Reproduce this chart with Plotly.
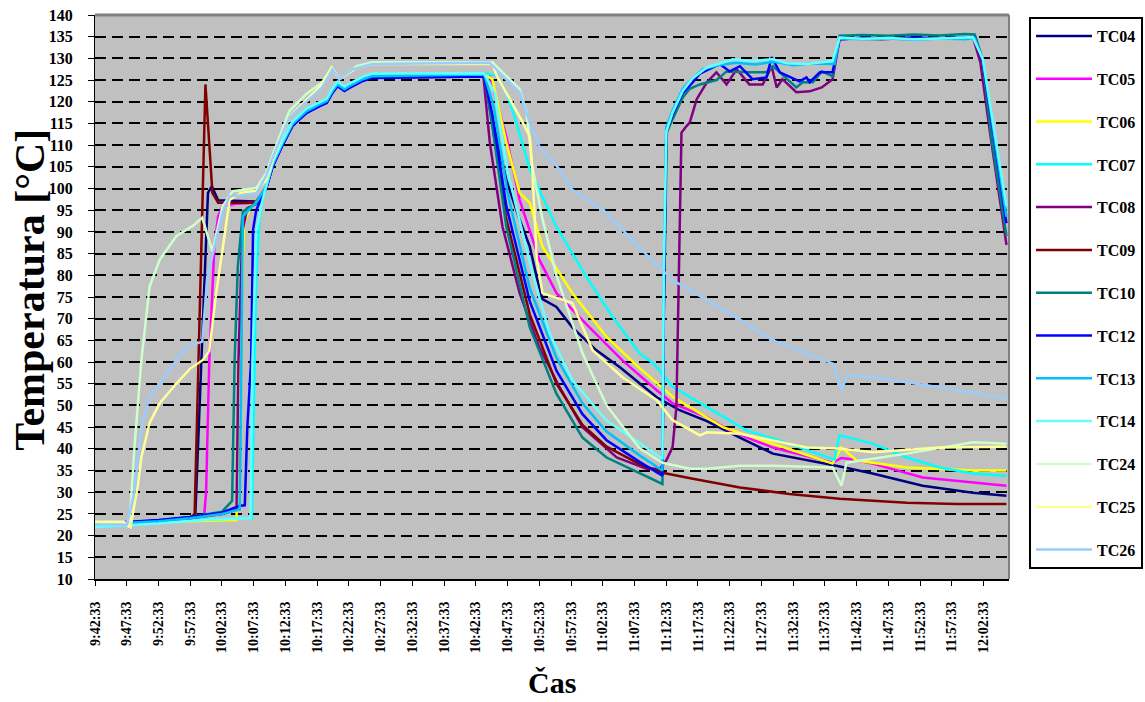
import plotly.graph_objects as go

# Time axis: minutes elapsed since 9:42:33, labelled every 5 minutes
TICK_MINUTES = list(range(0, 145, 5))
TICK_LABELS = [
    "9:42:33", "9:47:33", "9:52:33", "9:57:33", "10:02:33", "10:07:33", "10:12:33",
    "10:17:33", "10:22:33", "10:27:33", "10:32:33", "10:37:33", "10:42:33", "10:47:33",
    "10:52:33", "10:57:33", "11:02:33", "11:07:33", "11:12:33", "11:17:33", "11:22:33",
    "11:27:33", "11:32:33", "11:37:33", "11:42:33", "11:47:33", "11:52:33", "11:57:33",
    "12:02:33",
]
Y_TICKS = list(range(10, 141, 5))

# Thermocouple readings: (minutes, temperature °C)
TC04_T = [0, 5, 10, 15, 15.8, 17.8, 18.4, 19.4, 25.4, 27.0, 28.0, 29.5, 31.1, 33.3, 35.4, 36.5, 37.4, 38.2, 39.3, 40.1, 42.2, 43.7, 61.2,
          62.6, 64.8, 66.9, 68.5, 69.6, 70.5, 72.7, 75.2, 79.0, 82.7, 88.5, 92.1, 96.4, 101.6, 106.8, 116.8, 122.5, 130.4, 138.3, 143.6]
TC04_V = [22.4, 22.8, 23.3, 23.9, 24.5, 99.0, 100.5, 97.3, 97.0, 100.3, 105.2, 110.0, 114.5, 117.5, 119.2, 119.9, 122.2, 123.8, 122.6, 123.4, 125.0, 125.7, 126.0,
          116.0, 102.0, 92.8, 86.6, 79.5, 74.5, 72.7, 68.0, 62.7, 58.8, 51.9, 48.9, 46.4, 42.6, 38.9, 36.1, 34.3, 31.5, 29.9, 29.2]

TC05_T = [0, 5, 10, 15, 17.2, 17.5, 18.0, 18.8, 19.4, 20.1, 22.2, 25.4, 27.0, 28.0, 29.5, 31.1, 33.3, 35.4, 36.5, 37.4, 38.2, 39.3, 40.1, 42.2, 43.7, 61.5,
          62.2, 64.8, 66.9, 70.0, 72.7, 77.9, 83.1, 88.5, 91.0, 96.4, 100.0, 106.8, 116.2, 117.6, 118.6, 122.5, 130.4, 143.6]
TC05_V = [22.6, 23.0, 23.5, 24.1, 24.6, 30.0, 60.0, 86.6, 93.6, 95.9, 96.5, 96.7, 100.6, 105.6, 110.3, 114.9, 117.9, 119.5, 120.2, 122.5, 124.1, 123.0, 123.7, 125.3, 126.0, 126.2,
          125.9, 112.0, 97.4, 83.6, 75.9, 68.0, 60.4, 53.5, 50.5, 47.3, 44.2, 40.3, 36.8, 37.9, 37.7, 36.6, 33.4, 31.5]

TC06_T = [0, 5, 10, 15, 18.5, 22.3, 22.7, 23.5, 24.5, 25.6, 27.0, 28.0, 29.5, 31.1, 33.3, 35.4, 36.5, 37.4, 38.2, 39.3, 40.1, 42.2, 43.7, 61.5,
          62.6, 64.8, 66.9, 68.5, 70.5, 75.2, 80.6, 85.8, 91.0, 98.9, 106.8, 116.2, 117.6, 120.0, 127.9, 138.3, 143.6]
TC06_V = [22.8, 23.0, 23.2, 23.4, 23.6, 23.6, 60.0, 92.0, 96.0, 97.2, 100.6, 105.7, 110.4, 115.0, 118.0, 119.6, 120.3, 122.6, 124.2, 123.1, 123.8, 125.4, 126.1, 126.3,
          125.2, 110.6, 99.0, 96.7, 86.6, 75.9, 65.8, 58.6, 52.0, 45.0, 41.2, 36.6, 40.3, 37.3, 35.7, 35.0, 35.0]

TC07_T = [0, 5, 10, 18.5, 24.7, 25.0, 25.4, 25.9, 26.4, 27.0, 28.0, 29.5, 31.1, 33.3, 35.4, 36.5, 37.4, 38.2, 39.3, 40.1, 42.2, 43.7, 61.5,
          63.3, 64.8, 66.4, 68.5, 72.7, 77.4, 81.5, 85.8, 88.0, 91.0, 96.4, 102.7, 107.9, 116.5, 117.3, 122.5, 127.9, 133.1, 138.3, 143.6]
TC07_V = [22.0, 22.5, 23.0, 23.8, 24.0, 50.0, 80.0, 92.8, 97.4, 100.8, 106.0, 110.7, 115.3, 118.3, 119.9, 120.6, 122.9, 124.5, 123.4, 124.1, 125.7, 126.4, 126.6,
          126.0, 122.2, 115.2, 104.4, 91.2, 79.7, 70.5, 62.0, 59.7, 54.3, 49.6, 44.2, 41.9, 37.5, 43.1, 41.2, 38.0, 35.7, 34.3, 33.8]

TC08_T = [0, 5, 10, 15, 20, 22.3, 22.6, 23.2, 24.0, 25.9, 27.0, 28.0, 29.5, 31.1, 33.3, 35.4, 36.5, 37.4, 38.2, 39.3, 40.1, 42.2, 43.7, 61.2,
          62.2, 64.2, 66.9, 70.0, 73.2, 76.8, 82.2, 86.9, 89.0, 90.0, 91.0, 91.6, 92.1, 92.4, 93.2, 93.7, 94.8, 96.4, 97.9, 99.5, 101.1, 103.1,
          105.2, 106.6, 107.4, 108.3, 110.5, 112.6, 114.5, 116.2, 117.3, 120.0, 124.0, 128.0, 132.0, 136.0, 138.3, 139.5, 141.0, 143.6]
TC08_V = [22.5, 22.9, 23.4, 24.0, 25.0, 26.0, 60.0, 90.0, 95.5, 96.8, 100.2, 105.2, 109.9, 114.5, 117.5, 119.1, 119.8, 122.1, 123.7, 122.6, 123.3, 124.9, 125.6, 125.8,
          110.6, 91.2, 75.9, 63.4, 54.2, 45.0, 38.0, 35.4, 35.4, 37.3, 40.4, 49.6, 94.4, 112.9, 114.4, 115.2, 120.6, 124.5, 126.8, 124.0, 127.5, 124.0,
          124.0, 128.2, 123.3, 125.2, 122.2, 122.4, 123.3, 125.2, 134.4, 134.6, 134.4, 134.7, 134.5, 134.6, 135.0, 129.0, 113.0, 87.0]

TC09_T = [0, 5, 10, 15, 15.7, 17.4, 18.5, 19.4, 25.4, 27.0, 28.0, 29.5, 31.1, 33.3, 35.4, 36.5, 37.4, 38.2, 39.3, 40.1, 42.2, 43.7, 61.3,
          62.6, 64.8, 68.5, 72.7, 76.8, 80.6, 85.8, 89.4, 91.0, 94.2, 101.6, 109.4, 117.3, 127.9, 135.8, 143.6]
TC09_V = [22.5, 22.9, 23.4, 24.2, 25.0, 124.0, 99.0, 96.7, 96.7, 100.4, 105.4, 110.1, 114.7, 117.7, 119.3, 120.0, 122.3, 123.9, 122.8, 123.5, 125.1, 125.8, 126.5,
          115.0, 93.0, 71.0, 55.0, 45.5, 40.5, 36.5, 34.5, 34.0, 33.1, 31.1, 29.6, 28.5, 27.6, 27.3, 27.3]

TC10_T = [0, 5, 10, 15, 20, 21.6, 22.0, 22.5, 23.3, 24.3, 25.9, 27.0, 28.0, 29.5, 31.1, 33.3, 35.4, 36.5, 37.4, 38.2, 39.3, 40.1, 42.2, 43.7, 61.3,
          62.6, 64.8, 68.5, 72.7, 76.8, 80.6, 85.8, 89.4, 89.6, 90.1, 91.0, 92.6, 93.7, 95.3, 97.9, 99.5, 103.1, 105.8, 106.8, 108.5, 110.5,
          111.5, 113.1, 114.5, 116.2, 117.3, 121.0, 125.0, 129.0, 133.0, 137.0, 138.6, 139.8, 141.2, 143.6]
TC10_V = [22.6, 23.0, 23.5, 24.3, 25.5, 28.0, 60.4, 82.0, 94.7, 95.6, 97.0, 100.4, 105.4, 110.1, 114.7, 117.7, 119.3, 120.0, 122.3, 123.9, 122.8, 123.5, 125.1, 125.8, 126.0,
          114.4, 91.2, 68.0, 52.7, 42.6, 38.0, 34.3, 31.9, 70.0, 113.0, 116.0, 121.0, 123.0, 124.0, 125.0, 127.0, 126.8, 126.8, 128.2, 126.0, 123.3,
          124.5, 124.5, 127.0, 125.9, 135.2, 135.4, 135.2, 135.5, 135.3, 135.6, 135.5, 130.0, 112.0, 89.0]

TC12_T = [0, 5, 10, 15, 20, 22.8, 23.6, 24.0, 24.6, 24.9, 25.4, 25.9, 27.0, 28.0, 29.5, 31.1, 33.3, 35.4, 36.5, 37.4, 38.2, 39.3, 40.1, 42.2, 43.7, 61.3,
          62.6, 64.8, 68.5, 72.7, 76.8, 80.6, 85.8, 89.4, 89.6, 90.0, 91.0, 92.6, 94.2, 95.3, 98.4, 100.0, 101.6, 103.6, 105.8, 106.6, 107.9,
          111.0, 112.1, 112.6, 114.2, 116.2, 117.3, 121.0, 125.0, 129.0, 133.0, 137.0, 138.6, 139.9, 141.4, 143.6]
TC12_V = [22.7, 23.1, 23.6, 24.3, 25.3, 26.9, 27.0, 45.0, 60.4, 90.5, 95.0, 96.8, 100.1, 105.1, 109.8, 114.4, 117.4, 119.0, 119.7, 122.0, 123.6, 122.5, 123.2, 124.8, 125.5, 125.8,
          117.0, 96.0, 74.0, 58.0, 48.0, 42.0, 37.0, 33.8, 70.0, 113.0, 117.0, 122.0, 124.5, 126.5, 128.7, 127.0, 128.2, 125.2, 125.6, 130.3, 126.8,
          124.7, 125.6, 124.5, 126.8, 126.8, 134.4, 134.7, 134.5, 134.8, 134.6, 134.8, 134.8, 129.0, 114.0, 92.0]

TC13_T = [0, 5, 10, 15, 20, 22.8, 23.1, 23.3, 25.4, 27.0, 28.0, 29.5, 31.1, 33.3, 35.4, 36.5, 37.4, 38.2, 39.3, 40.1, 42.2, 43.7, 61.3,
          62.8, 65.0, 68.5, 72.7, 76.8, 80.6, 85.8, 89.4, 89.6, 90.0, 91.0, 92.6, 94.2, 95.8, 98.4, 101.0, 104.0, 107.0, 110.0, 113.0, 116.5,
          117.3, 121.0, 125.0, 129.0, 133.0, 137.0, 138.6, 139.9, 141.4, 143.6]
TC13_V = [22.5, 22.9, 23.3, 24.0, 25.0, 26.0, 60.0, 93.6, 96.8, 100.5, 105.5, 110.2, 114.8, 117.8, 119.4, 120.1, 122.4, 124.0, 122.9, 123.6, 125.2, 125.9, 126.3,
          119.0, 99.0, 77.0, 61.0, 50.5, 44.0, 38.5, 35.0, 80.0, 114.0, 118.0, 123.0, 125.5, 127.5, 128.5, 129.0, 128.6, 129.2, 128.4, 128.8, 128.7,
          134.6, 134.4, 134.6, 134.3, 134.6, 134.4, 134.7, 129.5, 115.0, 93.5]

TC14_T = [0, 5, 10, 18.5, 24.5, 24.8, 25.4, 26.4, 27.0, 28.0, 29.5, 31.1, 33.3, 35.4, 36.5, 37.4, 38.2, 39.3, 40.1, 42.2, 43.7, 61.3,
          63.0, 65.0, 68.9, 71.6, 75.2, 80.6, 85.8, 89.4, 89.6, 90.0, 91.0, 92.6, 94.2, 96.4, 100.5, 103.0, 106.8, 109.0, 112.1, 116.2,
          117.3, 121.0, 125.0, 129.0, 133.0, 138.3, 139.9, 141.4, 143.6]
TC14_V = [22.0, 22.4, 22.8, 23.8, 24.0, 60.0, 90.0, 97.4, 100.9, 106.1, 110.8, 115.4, 118.4, 120.0, 120.7, 123.0, 124.6, 123.5, 124.2, 125.8, 126.5, 126.6,
          122.0, 104.0, 80.6, 66.7, 55.8, 46.5, 41.2, 37.7, 80.0, 113.0, 117.5, 122.5, 125.5, 127.9, 129.8, 129.4, 129.8, 128.9, 128.7, 129.4,
          134.8, 134.5, 134.7, 134.4, 134.6, 134.9, 129.8, 116.0, 95.9]

TC24_T = [0, 4.5, 5.4, 6.2, 7.3, 8.6, 10.2, 12.8, 15.5, 16.9, 18.5, 20.1, 21.7, 25.4, 27.0, 28.0, 30.6, 33.3, 35.8, 37.3, 38.5, 41.2, 43.7, 62.6,
          66.9, 68.0, 68.9, 70.5, 72.7, 76.8, 80.6, 85.8, 89.4, 93.7, 96.4, 101.6, 106.8, 116.2, 117.6, 118.4, 127.9, 138.3, 143.6]
TC24_V = [23.0, 23.0, 22.0, 40.0, 60.4, 77.4, 83.6, 89.0, 91.5, 93.3, 85.5, 95.9, 99.4, 100.1, 103.6, 107.8, 117.8, 121.8, 124.5, 128.0, 125.2, 128.2, 129.1, 129.1,
          122.9, 117.5, 105.0, 93.0, 80.0, 62.0, 50.0, 40.1, 36.8, 35.4, 35.4, 36.1, 36.1, 35.7, 31.5, 36.8, 38.9, 41.5, 41.2]

TC25_T = [0, 4.5, 5.6, 6.8, 7.3, 8.6, 10.2, 12.8, 15.0, 17.0, 18.0, 19.1, 20.1, 21.2, 23.0, 25.4, 27.0, 28.0, 30.6, 33.3, 35.8, 37.3, 38.5, 41.2, 43.7, 62.6,
          63.3, 67.4, 68.5, 68.9, 69.6, 70.5, 73.7, 75.2, 78.4, 83.1, 88.5, 91.0, 95.3, 96.4, 101.6, 112.1, 117.3, 122.5, 133.1, 143.6]
TC25_V = [23.2, 23.2, 22.0, 32.0, 38.0, 46.0, 50.5, 55.0, 58.5, 60.5, 62.5, 76.0, 86.0, 97.4, 99.0, 99.5, 102.0, 106.5, 116.5, 120.5, 124.0, 127.7, 125.2, 127.8, 128.7, 128.7,
          126.0, 115.2, 112.0, 104.4, 83.6, 75.9, 74.3, 73.6, 62.7, 56.5, 51.2, 46.6, 43.1, 43.8, 43.5, 40.3, 40.1, 39.2, 40.3, 40.5]

TC26_T = [0, 5, 6.2, 7.3, 8.6, 10.2, 12.8, 14.4, 16.9, 17.7, 19.1, 20.1, 21.2, 25.4, 27.0, 28.0, 30.6, 33.3, 35.8, 37.4, 38.5, 40.6, 43.7, 62.2,
          64.2, 66.9, 68.5, 70.0, 73.2, 75.2, 80.6, 85.8, 91.0, 101.6, 106.8, 116.2, 117.6, 118.6, 122.5, 133.1, 143.6]
TC26_V = [22.5, 22.5, 30.0, 45.0, 52.0, 55.0, 60.4, 63.5, 64.7, 79.7, 88.2, 94.4, 98.2, 98.8, 103.0, 107.1, 116.4, 120.1, 123.3, 127.5, 125.2, 127.5, 128.7, 129.0,
          126.0, 122.2, 115.2, 109.7, 104.4, 99.7, 94.4, 86.3, 78.9, 69.8, 65.0, 59.7, 53.5, 57.0, 56.5, 54.2, 51.6]

SERIES = [
    ("TC04", TC04_T, TC04_V, "#000080"),
    ("TC05", TC05_T, TC05_V, "#FF00FF"),
    ("TC06", TC06_T, TC06_V, "#FFFF00"),
    ("TC07", TC07_T, TC07_V, "#00FFFF"),
    ("TC08", TC08_T, TC08_V, "#800080"),
    ("TC09", TC09_T, TC09_V, "#800000"),
    ("TC10", TC10_T, TC10_V, "#008080"),
    ("TC12", TC12_T, TC12_V, "#0000FF"),
    ("TC13", TC13_T, TC13_V, "#00C0F8"),
    ("TC14", TC14_T, TC14_V, "#66FFFF"),
    ("TC24", TC24_T, TC24_V, "#CCFFCC"),
    ("TC25", TC25_T, TC25_V, "#FFFF99"),
    ("TC26", TC26_T, TC26_V, "#99CCFF"),
]

SERIF = "Liberation Serif, Times New Roman, serif"

fig = go.Figure()
for name, t, v, color in SERIES:
    fig.add_trace(go.Scatter(
        x=t, y=v, name=name, mode="lines",
        line=dict(color=color, width=2.5),
        legendgroup=name,
    ))

fig.update_layout(
    width=1145, height=702,
    margin=dict(l=95, r=136, t=15, b=123, autoexpand=False),
    paper_bgcolor="white",
    plot_bgcolor="#C0C0C0",
    showlegend=True,
    legend=dict(
        xref="container", yref="container",
        x=1029 / 1145, y=1 - 17 / 702, xanchor="left", yanchor="top",
        bgcolor="white", bordercolor="black", borderwidth=2,
        font=dict(family=SERIF, size=16, color="black", weight="bold"),
        tracegroupgap=19,
        itemwidth=56,
        maxheight=650,
    ),
    xaxis=dict(
        range=[0, 144],
        tickmode="array", tickvals=TICK_MINUTES, ticktext=TICK_LABELS,
        tickangle=-90,
        tickfont=dict(family=SERIF, size=14, color="black", weight="bold"),
        ticks="outside", ticklen=5, tickwidth=1, tickcolor="black",
        ticklabelstandoff=10,
        showline=True, linecolor="black", linewidth=2,
        showgrid=False, zeroline=False,
    ),
    yaxis=dict(
        range=[10, 140],
        tickmode="array", tickvals=Y_TICKS,
        tickfont=dict(family=SERIF, size=16, color="black", weight="bold"),
        ticks="outside", ticklen=6, tickwidth=1, tickcolor="black",
        ticklabelstandoff=12,
        showline=True, linecolor="black", linewidth=1,
        showgrid=True, gridcolor="black", gridwidth=1.6, griddash="11px,6px",
        zeroline=False,
    ),
    shapes=[
        dict(type="line", xref="x domain", yref="y domain", x0=0, x1=1, y0=1, y1=1,
             line=dict(color="#808080", width=3)),
        dict(type="line", xref="x domain", yref="y domain", x0=1, x1=1, y0=0, y1=1,
             line=dict(color="#808080", width=2)),
    ],
    annotations=[
        dict(text="Temperatura [°C]", xref="paper", yref="paper", x=-0.071, y=0.513,
             textangle=-90, showarrow=False, xanchor="center", yanchor="middle",
             font=dict(family=SERIF, size=42, color="black", weight="bold")),
        dict(text="Čas", xref="paper", yref="paper", x=0.5, y=-0.183,
             showarrow=False, xanchor="center", yanchor="middle",
             font=dict(family=SERIF, size=30, color="black", weight="bold")),
    ],
)

fig.write_html("out.html")
